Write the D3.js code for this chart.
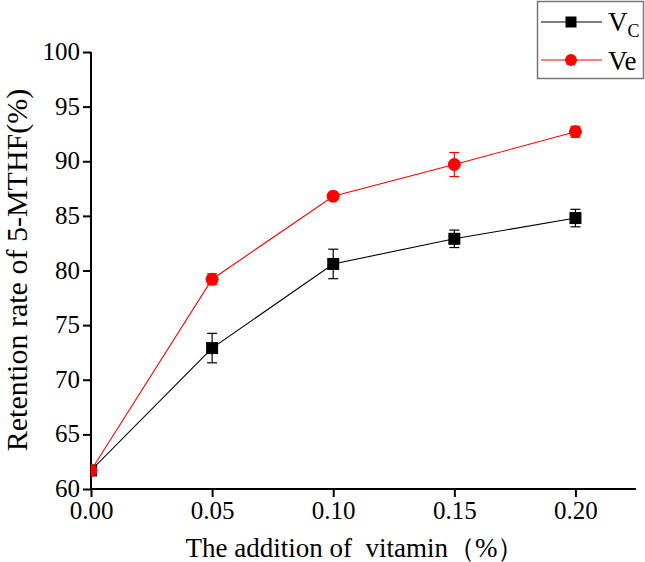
<!DOCTYPE html>
<html><head><meta charset="utf-8">
<script src="https://cdn.jsdelivr.net/npm/d3@7"></script>
<style>body{margin:0;background:#fff}svg{display:block}svg text{font-family:"Liberation Serif","DejaVu Serif","Times New Roman",serif !important}</style>
</head><body><svg id="c" width="645" height="562"></svg>
<script>
const xVals = [0.00, 0.05, 0.10, 0.15, 0.20];
const vcVals = [61.7, 72.9, 80.6, 82.9, 84.8];
const vcErr = [0.2, 1.35, 1.35, 0.8, 0.8];
const veVals = [61.7, 79.2, 86.8, 89.7, 92.7];
const veErr = [0.2, 0.5, 0.2, 1.1, 0.5];
const xTicks = [0.00, 0.05, 0.10, 0.15, 0.20];
const yTicks = [60, 65, 70, 75, 80, 85, 90, 95, 100];

const svg = d3.select("#c");
const x = d3.scaleLinear().domain([0, 0.225]).range([91, 636]);
const y = d3.scaleLinear().domain([60, 100]).range([489, 52]);

svg.append("defs").append("clipPath").attr("id","clip")
  .append("rect").attr("x",91).attr("y",0).attr("width",560).attr("height",489);

const xAxis = svg.append("g").attr("transform","translate(0,489)")
  .call(d3.axisBottom(x).tickValues(xTicks).tickFormat(d3.format(".2f")).tickSizeOuter(0).tickSize(8).tickPadding(4));
const yAxis = svg.append("g").attr("transform","translate(91,0)")
  .call(d3.axisLeft(y).tickValues(yTicks).tickSizeOuter(0).tickSize(8).tickPadding(3));
[xAxis,yAxis].forEach(g=>{
  g.attr("font-family",null).attr("font-size",null);
  g.select(".domain").attr("stroke","#000").attr("stroke-width",2);
  g.selectAll(".tick line").attr("stroke","#000").attr("stroke-width",2);
  g.selectAll("text").attr("font-size",25).attr("fill","#000");
});
yAxis.selectAll(".tick text").attr("dy","0.3em");
yAxis.select(".domain").attr("d","M0,489V52");
xAxis.select(".domain").attr("d","M91,0H636");

const plot = svg.append("g").attr("clip-path","url(#clip)");
function series(vals, errs, color, shape){
  const pts = xVals.map((v,i)=>({x:v,y:vals[i],e:errs[i]}));
  plot.append("path").datum(pts).attr("fill","none").attr("stroke",color).attr("stroke-width",1.1)
    .attr("d", d3.line().x(d=>x(d.x)).y(d=>y(d.y)));
  const eb = plot.append("g").selectAll("g").data(pts).join("g");
  eb.append("line").attr("x1",d=>x(d.x)).attr("x2",d=>x(d.x)).attr("y1",d=>y(d.y-d.e)).attr("y2",d=>y(d.y+d.e)).attr("stroke",color).attr("stroke-width",1.2);
  eb.append("line").attr("x1",d=>x(d.x)-5).attr("x2",d=>x(d.x)+5).attr("y1",d=>y(d.y-d.e)).attr("y2",d=>y(d.y-d.e)).attr("stroke",color).attr("stroke-width",1.2);
  eb.append("line").attr("x1",d=>x(d.x)-5).attr("x2",d=>x(d.x)+5).attr("y1",d=>y(d.y+d.e)).attr("y2",d=>y(d.y+d.e)).attr("stroke",color).attr("stroke-width",1.2);
  if(shape==="square"){
    plot.append("g").selectAll("rect").data(pts).join("rect")
      .attr("x",d=>x(d.x)-6).attr("y",d=>y(d.y)-6).attr("width",12).attr("height",12).attr("fill",color);
  } else {
    plot.append("g").selectAll("circle").data(pts).join("circle")
      .attr("cx",d=>x(d.x)).attr("cy",d=>y(d.y)).attr("r",6.5).attr("fill",color);
  }
}
series(vcVals, vcErr, "#000", "square");
series(veVals, veErr, "#ff0000", "circle");

// axis titles
svg.append("text").attr("x",355).attr("y",557).attr("text-anchor","middle").attr("font-size",27).attr("fill","#000")
  .text("The addition of  vitamin（%）").style("white-space","pre");
svg.append("text").attr("transform","translate(27,270) rotate(-90)").attr("text-anchor","middle").attr("font-size",30).attr("fill","#000")
  .text("Retention rate of 5-MTHF(%)");

// legend
const lg = svg.append("g");
lg.append("rect").attr("x",537.5).attr("y",1.5).attr("width",106).attr("height",77).attr("fill","#fff").attr("stroke","#777").attr("stroke-width",1.5);
lg.append("line").attr("x1",541).attr("x2",602).attr("y1",22).attr("y2",22).attr("stroke","#000").attr("stroke-width",1.1);
lg.append("rect").attr("x",571-5.5).attr("y",22-5.5).attr("width",11).attr("height",11).attr("fill","#000");
const t1 = lg.append("text").attr("x",608).attr("y",31).attr("font-size",27).attr("fill","#000");
t1.append("tspan").text("V");
t1.append("tspan").attr("font-size",18).attr("dy",6).text("C");
lg.append("line").attr("x1",541).attr("x2",602).attr("y1",60).attr("y2",60).attr("stroke","#ff0000").attr("stroke-width",1.1);
lg.append("circle").attr("cx",571).attr("cy",60).attr("r",6).attr("fill","#ff0000");
lg.append("text").attr("x",608).attr("y",70).attr("font-size",27).attr("fill","#000").text("Ve");
</script></body></html>
